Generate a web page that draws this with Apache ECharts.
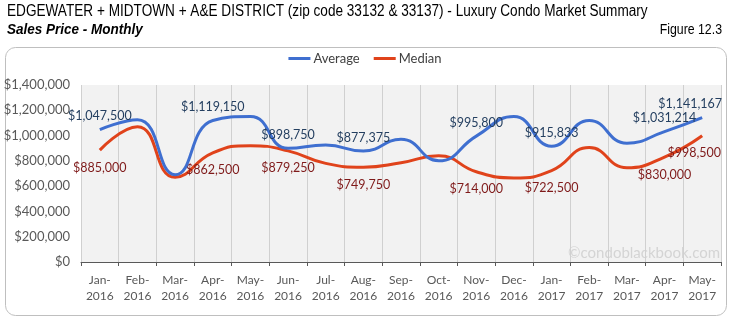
<!DOCTYPE html>
<html><head><meta charset="utf-8">
<script src="https://cdn.jsdelivr.net/npm/echarts@6/dist/echarts.min.js"></script>
<style>html,body{margin:0;padding:0;background:#fff}#c{width:730px;height:322px}</style>
</head><body><div id="c"></div>
<script>
const categories = ['Jan-\n2016','Feb-\n2016','Mar-\n2016','Apr-\n2016','May-\n2016','Jun-\n2016','Jul-\n2016','Aug-\n2016','Sep-\n2016','Oct-\n2016','Nov-\n2016','Dec-\n2016','Jan-\n2017','Feb-\n2017','Mar-\n2017','Apr-\n2017','May-\n2017'];
const average = [1047500,1125000,690000,1119150,1150000,898750,925000,877375,970000,800000,995800,1150000,915833,1120000,940000,1031214,1141167];
const median  = [885000,1070000,670000,862500,920000,879250,780000,749750,785000,840000,714000,665000,722500,905000,745000,830000,998500];
const labeledIdx = [0,3,5,7,10,12,15,16];
const yTicks = [0,200000,400000,600000,800000,1000000,1200000,1400000];

const fmt = v => '$' + v.toLocaleString('en-US');
const TFONT = "'Liberation Sans', Arial, sans-serif";
const LFONT = "Lato, 'Open Sans', sans-serif";

function mk(arr, color, pos, dist, offs) {
  return arr.map((v, i) => {
    const o = { value: v };
    if (labeledIdx.includes(i)) {
      o.label = { show: true, position: pos, formatter: fmt(v), color: color, fontSize: 12.5, fontFamily: LFONT, distance: dist };
      if (offs[i]) o.label.offset = offs[i];
    }
    return o;
  });
}

const chart = echarts.init(document.getElementById('c'), null, { renderer: 'canvas' });
chart.setOption({
  animation: false,
  graphic: [
    { type: 'text', left: 7, top: 4, scaleX: 0.85, originX: 7,
      style: { text: 'EDGEWATER + MIDTOWN + A&E DISTRICT (zip code 33132 & 33137) - Luxury Condo Market Summary', fill: '#000', font: "16px " + TFONT } },
    { type: 'text', left: 7, top: 22, scaleX: 0.9, originX: 7,
      style: { text: 'Sales Price - Monthly', fill: '#000', font: "italic bold 15px " + TFONT } },
    { type: 'text', right: 8, top: 23, scaleX: 0.88,
      style: { text: 'Figure 12.3', fill: '#000', font: "14px " + TFONT } },
    { type: 'rect', shape: { x: 5.5, y: 47.5, width: 721, height: 268, r: 10 }, style: { fill: 'none', stroke: '#bfbfbf', lineWidth: 1 }, z: -1 },
    { type: 'text', right: 10, top: 246, style: { text: '©condoblackbook.com', fill: '#d4d4d4', font: "15px Lato, 'Open Sans', sans-serif" } }
  ],
  legend: {
    top: 47, left: 'center', itemWidth: 22, itemHeight: 3, itemGap: 14, icon: 'rect',
    textStyle: { fontFamily: LFONT, fontSize: 13, color: '#404040', padding: [0, 0, 0, -2] },
    data: ['Average', 'Median']
  },
  grid: { left: 81, right: 9, top: 85, bottom: 60, show: true, backgroundColor: '#f2f2f2', borderWidth: 0 },
  xAxis: {
    type: 'category', data: categories, boundaryGap: true,
    axisLine: { lineStyle: { color: '#595959', width: 1 } },
    axisTick: { show: true, length: 4, lineStyle: { color: '#595959' } },
    axisLabel: { color: '#595959', fontFamily: LFONT, fontSize: 12, lineHeight: 16, margin: 10, interval: 0 },
    splitLine: { show: true, lineStyle: { color: '#d0d0d0', width: 1 } }
  },
  yAxis: {
    type: 'value', min: yTicks[0], max: yTicks[yTicks.length - 1], interval: 200000,
    axisLine: { show: false }, axisTick: { show: false },
    splitLine: { show: false },
    axisLabel: { color: '#595959', fontFamily: LFONT, fontSize: 13, margin: 11, formatter: v => fmt(v) }
  },
  series: [
    { name: 'Average', type: 'line', smooth: 0.5, symbol: 'circle', symbolSize: 0, showSymbol: true, z: 3,
      lineStyle: { color: '#3f6fd0', width: 3 }, itemStyle: { color: '#3f6fd0' },
      data: mk(average, '#243f60', 'top', 7, { 16: [-12, 0] }) },
    { name: 'Median', type: 'line', smooth: 0.5, symbol: 'circle', symbolSize: 0, showSymbol: true, z: 2,
      lineStyle: { color: '#e0431b', width: 3 }, itemStyle: { color: '#e0431b' },
      data: mk(median, '#7f1a1a', 'bottom', 11, { 16: [-8, 0] }) }
  ]
});
</script></body></html>
